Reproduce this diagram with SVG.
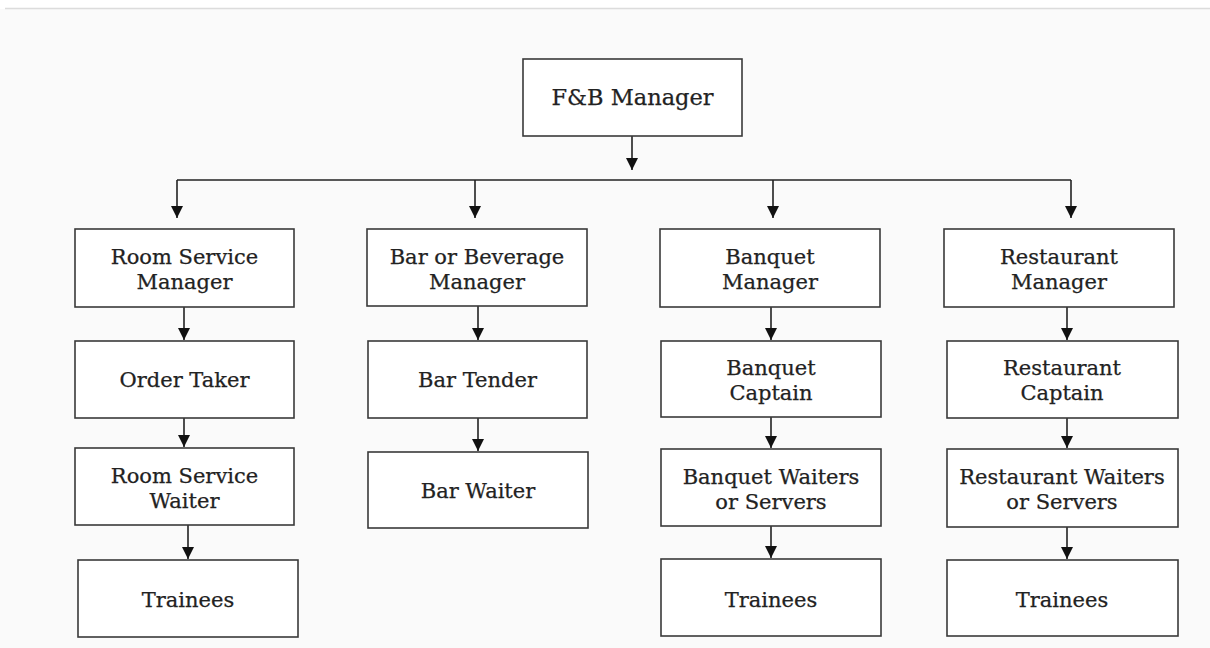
<svg xmlns="http://www.w3.org/2000/svg" width="1210" height="648" viewBox="0 0 1210 648">
<defs>
<style>
.bg{fill:#fafafa}
.box{fill:#ffffff;stroke:#3a3a3a;stroke-width:1.6}
.t{font-family:"DejaVu Serif","Liberation Serif",serif;font-size:21px;fill:#222;stroke:#222;stroke-width:0.25;text-anchor:middle}
.tl{font-family:"DejaVu Serif","Liberation Serif",serif;font-size:22.5px;fill:#222;stroke:#222;stroke-width:0.25;text-anchor:middle}
.ln{stroke:#222;stroke-width:1.6;fill:none}
</style>
<marker id="ah" markerWidth="12" markerHeight="14" refX="12" refY="6" orient="auto" markerUnits="userSpaceOnUse">
<path d="M0,0 L12,6 L0,12 Z" fill="#111"/>
</marker>
</defs>
<rect x="0" y="0" width="1210" height="648" fill="#ffffff"/>
<rect class="bg" x="0" y="9" width="1210" height="639"/>
<line x1="5" y1="8.5" x2="1210" y2="8.5" stroke="#dcdcdc" stroke-width="1.5"/>

<g id="connectors">
<line class="ln" x1="632" y1="136" x2="632" y2="170" marker-end="url(#ah)"/>
<line class="ln" x1="177" y1="180" x2="1071" y2="180"/>
<line class="ln" x1="177" y1="180" x2="177" y2="218" marker-end="url(#ah)"/>
<line class="ln" x1="475" y1="180" x2="475" y2="218" marker-end="url(#ah)"/>
<line class="ln" x1="773" y1="180" x2="773" y2="218" marker-end="url(#ah)"/>
<line class="ln" x1="1071" y1="180" x2="1071" y2="218" marker-end="url(#ah)"/>

<line class="ln" x1="184" y1="307" x2="184" y2="340" marker-end="url(#ah)"/>
<line class="ln" x1="184" y1="418" x2="184" y2="447" marker-end="url(#ah)"/>
<line class="ln" x1="188" y1="525" x2="188" y2="559" marker-end="url(#ah)"/>

<line class="ln" x1="478" y1="306" x2="478" y2="340" marker-end="url(#ah)"/>
<line class="ln" x1="478" y1="418" x2="478" y2="451" marker-end="url(#ah)"/>

<line class="ln" x1="771" y1="307" x2="771" y2="340" marker-end="url(#ah)"/>
<line class="ln" x1="771" y1="417" x2="771" y2="448" marker-end="url(#ah)"/>
<line class="ln" x1="771" y1="526" x2="771" y2="558" marker-end="url(#ah)"/>

<line class="ln" x1="1067" y1="307" x2="1067" y2="340" marker-end="url(#ah)"/>
<line class="ln" x1="1067" y1="418" x2="1067" y2="448" marker-end="url(#ah)"/>
<line class="ln" x1="1067" y1="527" x2="1067" y2="559" marker-end="url(#ah)"/>
</g>

<g id="fb-manager">
<rect class="box" x="523" y="59" width="219" height="77"/>
<text class="tl" x="632.5" y="105">F&amp;B Manager</text>
</g>

<g id="room-service-manager">
<rect class="box" x="75" y="229" width="219" height="78"/>
<text class="t" x="184.5" y="264">Room Service</text>
<text class="t" x="184.5" y="289">Manager</text>
</g>
<g id="order-taker">
<rect class="box" x="75" y="341" width="219" height="77"/>
<text class="t" x="184.5" y="387">Order Taker</text>
</g>
<g id="room-service-waiter">
<rect class="box" x="75" y="448" width="219" height="77"/>
<text class="t" x="184.5" y="483">Room Service</text>
<text class="t" x="184.5" y="508">Waiter</text>
</g>
<g id="trainees-1">
<rect class="box" x="78" y="560" width="220" height="77"/>
<text class="t" x="188" y="607">Trainees</text>
</g>

<g id="bar-manager">
<rect class="box" x="367" y="229" width="220" height="77"/>
<text class="t" x="477" y="264">Bar or Beverage</text>
<text class="t" x="477" y="289">Manager</text>
</g>
<g id="bar-tender">
<rect class="box" x="368" y="341" width="219" height="77"/>
<text class="t" x="477.5" y="387">Bar Tender</text>
</g>
<g id="bar-waiter">
<rect class="box" x="368" y="452" width="220" height="76"/>
<text class="t" x="478" y="498">Bar Waiter</text>
</g>

<g id="banquet-manager">
<rect class="box" x="660" y="229" width="220" height="78"/>
<text class="t" x="770" y="264">Banquet</text>
<text class="t" x="770" y="289">Manager</text>
</g>
<g id="banquet-captain">
<rect class="box" x="661" y="341" width="220" height="76"/>
<text class="t" x="771" y="375">Banquet</text>
<text class="t" x="771" y="400">Captain</text>
</g>
<g id="banquet-waiters">
<rect class="box" x="661" y="449" width="220" height="77"/>
<text class="t" x="771" y="484">Banquet Waiters</text>
<text class="t" x="771" y="509">or Servers</text>
</g>
<g id="trainees-3">
<rect class="box" x="661" y="559" width="220" height="77"/>
<text class="t" x="771" y="607">Trainees</text>
</g>

<g id="restaurant-manager">
<rect class="box" x="944" y="229" width="230" height="78"/>
<text class="t" x="1059" y="264">Restaurant</text>
<text class="t" x="1059" y="289">Manager</text>
</g>
<g id="restaurant-captain">
<rect class="box" x="947" y="341" width="231" height="77"/>
<text class="t" x="1062" y="375">Restaurant</text>
<text class="t" x="1062" y="400">Captain</text>
</g>
<g id="restaurant-waiters">
<rect class="box" x="947" y="449" width="231" height="78"/>
<text class="t" x="1062" y="484">Restaurant Waiters</text>
<text class="t" x="1062" y="509">or Servers</text>
</g>
<g id="trainees-4">
<rect class="box" x="947" y="560" width="231" height="76"/>
<text class="t" x="1062" y="607">Trainees</text>
</g>
</svg>
